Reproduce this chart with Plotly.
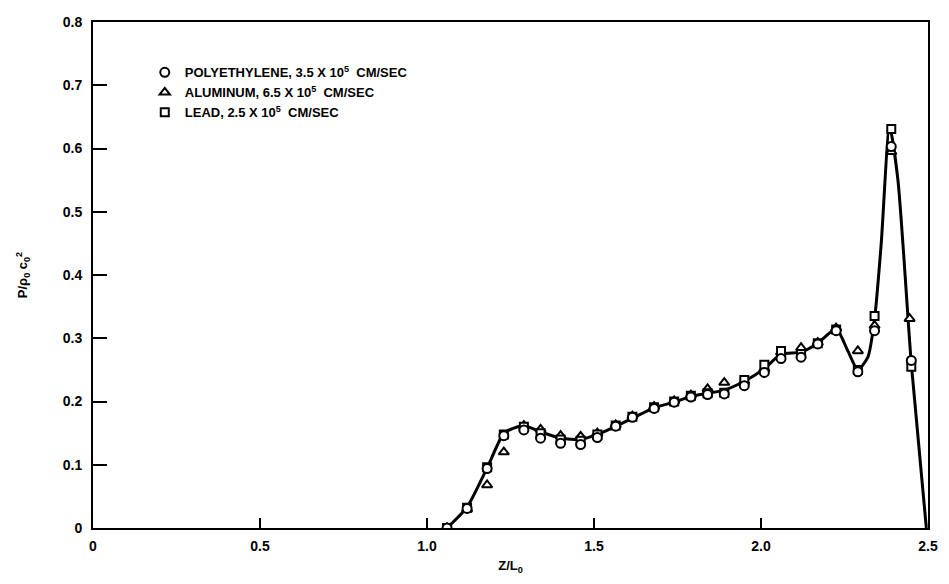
import plotly.graph_objects as go

# Data
poly_x = [1.06, 1.12, 1.18, 1.23, 1.29, 1.34, 1.40, 1.46, 1.51, 1.565, 1.615, 1.68, 1.74,
          1.79, 1.84, 1.89, 1.95, 2.01, 2.06, 2.12, 2.17, 2.225, 2.29, 2.34, 2.39, 2.45]
poly_y = [0.0, 0.031, 0.094, 0.146, 0.155, 0.142, 0.134, 0.132, 0.143, 0.161, 0.175, 0.189, 0.199,
          0.207, 0.211, 0.212, 0.225, 0.246, 0.268, 0.270, 0.291, 0.312, 0.247, 0.312, 0.603, 0.265]

alum_x = [1.06, 1.12, 1.18, 1.23, 1.29, 1.34, 1.40, 1.46, 1.51, 1.565, 1.615, 1.68, 1.74,
          1.79, 1.84, 1.89, 1.95, 2.01, 2.06, 2.12, 2.17, 2.225, 2.29, 2.34, 2.39, 2.445]
alum_y = [0.0, 0.030, 0.068, 0.120, 0.162, 0.156, 0.146, 0.145, 0.150, 0.163, 0.177, 0.192, 0.201,
          0.210, 0.220, 0.230, 0.232, 0.252, 0.278, 0.285, 0.293, 0.316, 0.280, 0.320, 0.595, 0.331]

lead_x = [1.06, 1.12, 1.18, 1.23, 1.29, 1.34, 1.40, 1.46, 1.51, 1.565, 1.615, 1.68, 1.74,
          1.79, 1.84, 1.89, 1.95, 2.01, 2.06, 2.12, 2.17, 2.225, 2.29, 2.34, 2.39, 2.45]
lead_y = [0.0, 0.032, 0.096, 0.148, 0.160, 0.150, 0.140, 0.138, 0.148, 0.162, 0.176, 0.191, 0.200,
          0.209, 0.213, 0.214, 0.234, 0.258, 0.280, 0.275, 0.292, 0.314, 0.250, 0.335, 0.631, 0.255]

curve_x = [1.06, 1.12, 1.18, 1.23, 1.26, 1.29, 1.34, 1.40, 1.46, 1.51, 1.57, 1.62, 1.68, 1.74,
           1.79, 1.84, 1.89, 1.95, 2.01, 2.06, 2.12, 2.17, 2.225, 2.26, 2.29, 2.32, 2.34, 2.36,
           2.385, 2.41, 2.45, 2.495]
curve_y = [0.0, 0.033, 0.095, 0.150, 0.158, 0.162, 0.152, 0.142, 0.140, 0.148, 0.162, 0.175,
           0.190, 0.199, 0.208, 0.213, 0.218, 0.232, 0.252, 0.275, 0.278, 0.292, 0.315, 0.280,
           0.250, 0.270, 0.330, 0.450, 0.635, 0.550, 0.260, 0.0]

x_ticks = [0, 0.5, 1.0, 1.5, 2.0, 2.5]
x_tick_labels = ["0", "0.5", "1.0", "1.5", "2.0", "2.5"]
y_ticks = [0, 0.1, 0.2, 0.3, 0.4, 0.5, 0.6, 0.7, 0.8]
y_tick_labels = ["0", "0.1", "0.2", "0.3", "0.4", "0.5", "0.6", "0.7", "0.8"]

series_names = [
    "POLYETHYLENE, 3.5 X 10<sup>5</sup>  CM/SEC",
    "ALUMINUM, 6.5 X 10<sup>5</sup>  CM/SEC",
    "LEAD, 2.5 X 10<sup>5</sup>  CM/SEC",
]

FONT = "Liberation Sans"

fig = go.Figure()
fig.add_trace(go.Scatter(x=curve_x, y=curve_y, mode="lines",
                         line=dict(color="black", width=3, shape="spline", smoothing=0.6),
                         showlegend=False, hoverinfo="skip"))
fig.add_trace(go.Scatter(x=alum_x, y=alum_y, mode="markers", name=series_names[1], legendrank=2,
                         marker=dict(symbol="triangle-up", size=9, color="white",
                                     line=dict(color="black", width=2))))
fig.add_trace(go.Scatter(x=lead_x, y=lead_y, mode="markers", name=series_names[2], legendrank=3,
                         marker=dict(symbol="square", size=8, color="white",
                                     line=dict(color="black", width=2))))
fig.add_trace(go.Scatter(x=poly_x, y=poly_y, mode="markers", name=series_names[0], legendrank=1,
                         marker=dict(symbol="circle", size=9, color="white",
                                     line=dict(color="black", width=2))))

fig.update_layout(
    width=949, height=584,
    margin=dict(l=93, r=11, t=22, b=56),
    paper_bgcolor="white", plot_bgcolor="white",
    font=dict(family=FONT, size=14, color="black"),
    legend=dict(x=0.062, y=0.93, xanchor="left", yanchor="top",
                bgcolor="rgba(0,0,0,0)", tracegroupgap=0,
                font=dict(family=FONT, size=13, color="black", weight="bold"),
                itemwidth=30),
    xaxis=dict(range=[0, 2.5], tickvals=x_ticks, ticktext=x_tick_labels,
               ticks="inside", ticklen=10, tickwidth=2, tickcolor="black",
               showline=True, linecolor="black", linewidth=2, mirror=True,
               showgrid=False, zeroline=False, ticklabelstandoff=4,
               tickfont=dict(family=FONT, size=14, weight="bold"),
               title=dict(text="Z/L<sub>0</sub>", font=dict(family=FONT, size=13, weight="bold"),
                          standoff=8)),
    yaxis=dict(range=[0, 0.8], tickvals=y_ticks, ticktext=y_tick_labels,
               ticks="inside", ticklen=14, tickwidth=2, tickcolor="black",
               showline=True, linecolor="black", linewidth=2, mirror=True,
               showgrid=False, zeroline=False, ticklabelstandoff=6,
               tickfont=dict(family=FONT, size=14, weight="bold"),
               title=dict(text="P/ρ<sub>0</sub> c<sub>0</sub><sup>2</sup>",
                          font=dict(family=FONT, size=13, weight="bold"), standoff=32)),
)

fig.write_html("out.html")
